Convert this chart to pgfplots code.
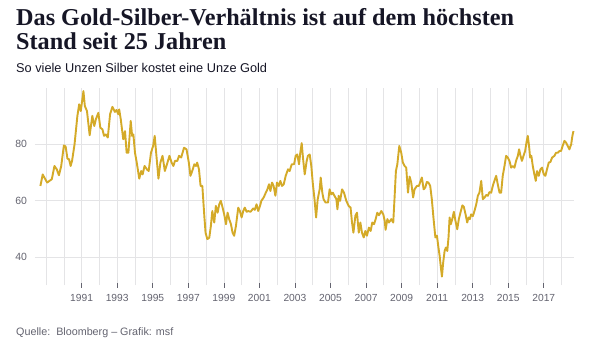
\documentclass[border=0pt]{standalone}
\usepackage{fontspec}
\setmainfont{Liberation Serif}
\newfontfamily\labelfont{Liberation Sans}
\usepackage{pgfplots}
\pgfplotsset{compat=1.18}
\definecolor{gold}{RGB}{212,170,40}
\definecolor{gridc}{RGB}{228,228,230}
\definecolor{tickc}{RGB}{100,100,112}
\definecolor{titlec}{RGB}{22,22,38}
\begin{document}
\begin{tikzpicture}[x=1bp,y=1bp]
\path[fill=white] (-35,-73) rectangle (568,285);
\begin{axis}[
  at={(0,0)}, anchor=south west,
  scale only axis, width=539bp, height=197bp,
  xmin=1988.375, xmax=2018.7, ymin=30, ymax=100,
  axis line style={draw=none},
  xtick={1991,1993,...,2017},
  minor xtick={1989,1990,...,2018},
  ytick={40,60,80},
  grid=both,
  major grid style={draw=gridc, line width=0.7bp},
  minor grid style={draw=gridc, line width=0.7bp},
  xtick pos=lower, ytick pos=left,
  tick align=center,
  major tick length=5bp, minor tick length=0bp,
  xtick style={draw=tickc, line width=0.6bp},
  ytick style={draw=none},
  /pgf/number format/assume math mode=true,
  /pgf/number format/1000 sep={},
  x tick label style={font=\labelfont\fontsize{10.3}{12}\selectfont, text=tickc, yshift=-3bp},
  y tick label style={font=\labelfont\fontsize{10.5}{12}\selectfont, text=tickc, xshift=-2bp},
  clip=false,
]
\addplot[color=gold, line width=1.9bp, line join=round] coordinates {
(1988.68,65.2)(1988.81,69.3)(1988.90,68.2)(1989.06,66.4)(1989.19,67.0)(1989.32,67.6)
(1989.47,72.3)(1989.60,71.1)(1989.72,69.0)(1989.85,72.3)(1990.00,79.6)(1990.10,79.2)
(1990.20,74.9)(1990.29,74.7)(1990.38,72.3)(1990.46,74.1)(1990.60,80.0)(1990.76,90.1)
(1990.86,94.2)(1990.95,91.8)(1991.10,98.9)(1991.18,93.6)(1991.30,91.8)(1991.45,83.2)
(1991.60,90.1)(1991.71,86.5)(1991.80,88.9)(1991.94,91.2)(1992.05,85.9)(1992.17,85.3)
(1992.26,83.0)(1992.36,83.5)(1992.47,82.4)(1992.60,90.7)(1992.73,93.3)(1992.87,91.5)
(1992.96,92.2)(1993.06,90.7)(1993.11,92.4)(1993.20,88.9)(1993.34,81.8)(1993.44,84.7)
(1993.53,77.0)(1993.63,77.0)(1993.76,88.3)(1993.84,83.0)(1993.91,83.5)(1994.00,77.0)
(1994.10,73.5)(1994.24,67.8)(1994.35,70.5)(1994.43,69.3)(1994.54,72.3)(1994.67,71.1)
(1994.77,70.5)(1994.90,77.0)(1995.02,79.4)(1995.11,83.0)(1995.20,76.4)(1995.32,67.8)
(1995.43,73.5)(1995.55,75.9)(1995.68,70.5)(1995.80,72.9)(1995.94,75.9)(1996.06,73.5)
(1996.16,72.3)(1996.25,74.1)(1996.38,74.1)(1996.48,75.9)(1996.60,75.3)(1996.76,78.8)
(1996.90,78.2)(1997.03,73.5)(1997.12,68.8)(1997.19,69.9)(1997.34,72.9)(1997.43,72.3)
(1997.50,73.5)(1997.60,71.1)(1997.69,65.2)(1997.79,65.2)(1997.90,54.6)(1997.97,48.6)
(1998.07,46.3)(1998.18,46.8)(1998.27,51.0)(1998.35,56.3)(1998.46,52.2)(1998.55,58.1)
(1998.65,55.7)(1998.74,58.7)(1998.83,59.9)(1998.93,57.5)(1999.02,55.1)(1999.12,51.6)
(1999.21,55.7)(1999.30,53.4)(1999.40,51.6)(1999.49,48.6)(1999.58,47.5)(1999.68,51.0)
(1999.81,57.5)(1999.90,56.3)(2000.00,54.0)(2000.09,56.3)(2000.18,57.5)(2000.28,56.0)
(2000.37,56.3)(2000.50,56.0)(2000.65,57.2)(2000.74,56.7)(2000.84,58.7)(2000.93,56.3)
(2001.03,58.0)(2001.11,59.9)(2001.24,61.1)(2001.36,62.8)(2001.45,64.0)(2001.54,65.8)
(2001.62,63.4)(2001.71,66.4)(2001.80,65.2)(2001.90,61.7)(2001.99,66.4)(2002.09,65.2)
(2002.18,67.0)(2002.27,65.2)(2002.37,65.8)(2002.48,68.8)(2002.61,71.1)(2002.70,70.5)
(2002.82,72.9)(2002.95,72.9)(2003.04,75.9)(2003.13,76.4)(2003.23,72.9)(2003.30,77.0)
(2003.38,80.4)(2003.45,75.3)(2003.55,69.3)(2003.66,74.1)(2003.73,75.9)(2003.83,76.4)
(2003.92,72.3)(2004.00,66.4)(2004.10,60.5)(2004.19,54.0)(2004.28,60.5)(2004.39,64.0)
(2004.45,68.2)(2004.54,62.8)(2004.61,60.5)(2004.72,59.3)(2004.86,59.3)(2004.95,64.0)
(2005.04,62.2)(2005.13,62.8)(2005.24,61.5)(2005.33,60.5)(2005.39,56.9)(2005.46,61.7)
(2005.54,59.9)(2005.65,64.0)(2005.76,62.8)(2005.89,59.9)(2006.02,58.1)(2006.13,57.5)
(2006.21,52.2)(2006.29,48.6)(2006.40,54.6)(2006.49,55.7)(2006.59,48.6)(2006.68,52.2)
(2006.77,48.6)(2006.87,46.9)(2006.96,49.2)(2007.05,47.5)(2007.16,50.4)(2007.26,49.2)
(2007.35,52.2)(2007.45,51.6)(2007.54,53.4)(2007.63,55.7)(2007.73,54.8)(2007.86,56.3)
(2007.97,55.1)(2008.05,52.8)(2008.10,49.6)(2008.20,53.4)(2008.29,52.2)(2008.42,53.4)
(2008.53,52.2)(2008.61,61.7)(2008.68,70.5)(2008.76,72.9)(2008.87,79.4)(2008.98,77.0)
(2009.07,73.5)(2009.17,72.3)(2009.26,71.7)(2009.36,62.8)(2009.45,68.5)(2009.54,66.5)
(2009.65,61.1)(2009.73,64.0)(2009.86,65.2)(2009.97,65.2)(2010.07,67.0)(2010.14,68.2)
(2010.24,64.0)(2010.33,64.6)(2010.42,66.6)(2010.51,66.4)(2010.61,65.2)(2010.70,60.5)
(2010.80,53.4)(2010.90,46.9)(2010.99,47.5)(2011.06,43.9)(2011.14,40.4)(2011.21,36.2)
(2011.27,33.0)(2011.34,38.0)(2011.42,42.1)(2011.49,43.3)(2011.57,42.1)(2011.64,46.9)
(2011.70,54.0)(2011.77,51.6)(2011.85,53.4)(2011.94,56.0)(2012.03,52.8)(2012.13,49.8)
(2012.22,53.4)(2012.31,55.7)(2012.42,58.3)(2012.50,57.8)(2012.60,55.1)(2012.69,52.2)
(2012.77,54.0)(2012.84,53.4)(2012.91,55.1)(2013.01,54.5)(2013.10,56.3)(2013.20,58.7)
(2013.29,61.7)(2013.38,62.8)(2013.48,67.0)(2013.57,60.5)(2013.66,61.0)(2013.76,62.0)
(2013.85,61.7)(2013.94,63.0)(2014.04,62.8)(2014.13,65.2)(2014.22,67.0)(2014.32,68.8)
(2014.41,65.8)(2014.51,62.8)(2014.60,62.8)(2014.69,68.8)(2014.79,72.3)(2014.88,75.9)
(2014.97,75.3)(2015.07,74.1)(2015.16,71.7)(2015.26,72.3)(2015.35,71.7)(2015.44,74.1)
(2015.54,75.9)(2015.61,78.2)(2015.69,75.9)(2015.77,74.1)(2015.86,75.9)(2015.95,77.6)
(2016.04,81.2)(2016.10,83.0)(2016.17,79.4)(2016.23,75.3)(2016.30,75.9)(2016.38,72.3)
(2016.47,69.3)(2016.55,67.0)(2016.62,70.5)(2016.72,68.8)(2016.81,71.1)(2016.90,71.7)
(2017.00,69.3)(2017.09,68.8)(2017.18,71.1)(2017.28,73.5)(2017.37,73.7)(2017.47,75.3)
(2017.60,75.9)(2017.69,77.0)(2017.79,77.0)(2017.88,77.6)(2017.97,77.6)(2018.06,79.4)
(2018.16,81.2)(2018.25,80.6)(2018.35,79.4)(2018.44,78.2)(2018.54,80.0)(2018.61,83.0)
(2018.67,84.7)
};
\end{axis}
\node[anchor=base west, inner sep=0, font=\bfseries\fontsize{24.3}{26}\selectfont, text=titlec] at (-19,260) {Das Gold-Silber-Verhältnis ist auf dem höchsten};
\node[anchor=base west, inner sep=0, font=\bfseries\fontsize{24.3}{26}\selectfont, text=titlec] at (-19,235.5) {Stand seit 25 Jahren};
\node[anchor=base west, inner sep=0, font=\labelfont\fontsize{12.8}{14}\selectfont, text=titlec] at (-19,213) {So viele Unzen Silber kostet eine Unze Gold};
\node[anchor=base west, inner sep=0, font=\labelfont\fontsize{10.8}{12}\selectfont, text=tickc] at (-19,-50) {Quelle:\ \ Bloomberg – Grafik: msf};
\end{tikzpicture}
\end{document}
